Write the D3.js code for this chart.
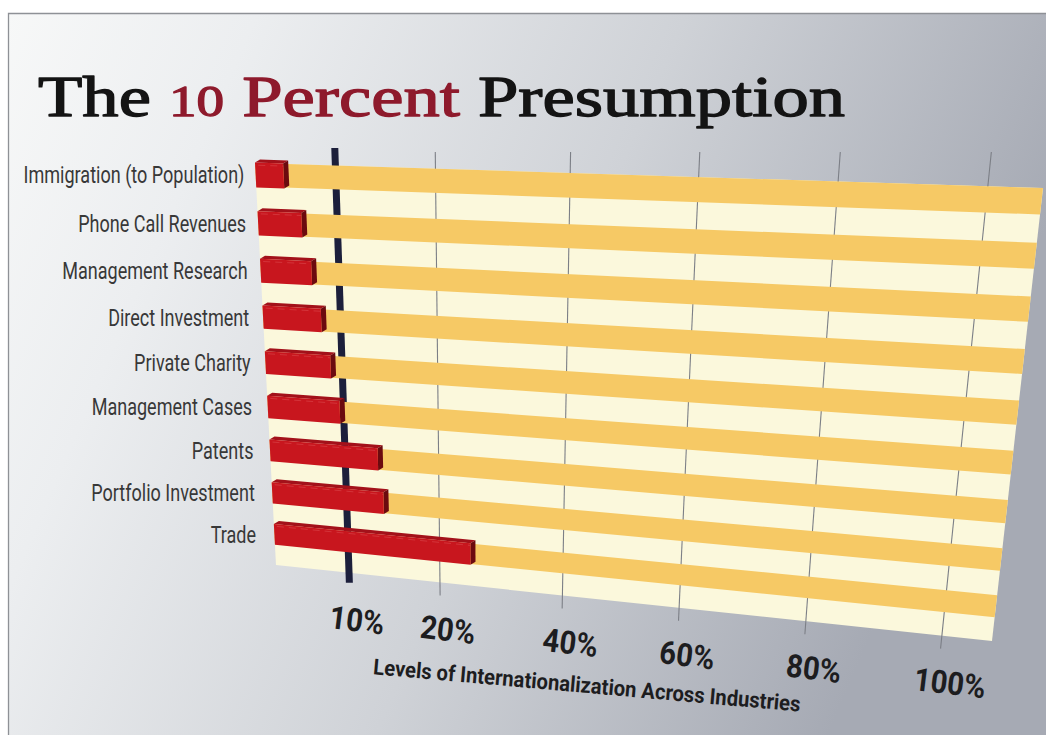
<!DOCTYPE html>
<html><head><meta charset="utf-8">
<script src="https://cdn.jsdelivr.net/npm/d3@7"></script>
<style>html,body{margin:0;padding:0;background:#fff;overflow:hidden}</style>
</head><body>
<svg id="chart" width="1046" height="735"></svg>
<script>
// ---------- data ----------
const categories = ["Immigration (to Population)", "Phone Call Revenues", "Management Research",
  "Direct Investment", "Private Charity", "Management Cases", "Patents", "Portfolio Investment", "Trade"];
const values = [3.5, 5.5, 6.5, 7.5, 8.5, 9.5, 13.5, 14, 25];
const tickValues = [10, 20, 40, 60, 80, 100];
const tickLabels = ["10%", "20%", "40%", "60%", "80%", "100%"];
const referenceValue = 10;
const titleParts = ["The ", "10", " Percent", " Presumption"];
const axisTitle = "Levels of Internationalization Across Industries";

// ---------- layout ----------
const W = 1046, H = 735;
const svg = d3.select("#chart");
const defs = svg.append("defs");
const grad = defs.append("linearGradient").attr("id", "bg")
  .attr("x1", "0").attr("y1", "0").attr("x2", "1").attr("y2", "0.3");
[[0, "#f7f8f8"], [0.22, "#eceef0"], [0.6, "#cfd2d7"], [1, "#a6aab4"]]
  .forEach(([o, c]) => grad.append("stop").attr("offset", o).attr("stop-color", c));
svg.append("rect").attr("width", W).attr("height", H).attr("fill", "#fff");
svg.append("rect").attr("x", 8).attr("y", 13).attr("width", W - 8).attr("height", H - 13).attr("fill", "url(#bg)");
svg.append("path").attr("d", `M8.5,${H} V13.5 H${W}`).attr("fill", "none")
  .attr("stroke", "#8e9196").attr("stroke-width", 1.3);

// perspective plane
const TL = [255, 163], TR = [1043, 188], BR = [992, 641], BL = [276, 565];
const warp = v => v + 0.1 * v * (1 - v);
function P(u, v) {
  const t = warp(v);
  const L = [TL[0] + (BL[0] - TL[0]) * t, TL[1] + (BL[1] - TL[1]) * t];
  const R = [TR[0] + (BR[0] - TR[0]) * t, TR[1] + (BR[1] - TR[1]) * t];
  return [L[0] + (R[0] - L[0]) * u, L[1] + (R[1] - L[1]) * u];
}
const x = d3.scaleLinear().domain([0, 10, 20, 40, 60, 80, 100])
  .range([0, 0.102, 0.229, 0.40, 0.563, 0.74, 0.93]);
const y = d3.scaleBand().domain(categories).range([0, 1]);
const stripeFrac = 0.48;
const line = d3.line();
const quad = (u0, u1, v0, v1) => line([P(u0, v0), P(u1, v0), P(u1, v1), P(u0, v1)]) + "Z";
const add = (p, o) => [p[0] + o[0], p[1] + o[1]];

// title
const title = svg.append("text").attr("x", 38).attr("y", 116)
  .attr("font-family", "'Liberation Serif','Times New Roman',serif").attr("font-weight", "normal")
  .attr("font-size", 58).attr("textLength", 807).attr("lengthAdjust", "spacingAndGlyphs")
  .attr("stroke-width", 1.3).attr("stroke-linejoin", "round");
title.append("tspan").text(titleParts[0]).attr("fill", "#141414").attr("stroke", "#141414");
title.append("tspan").text(titleParts[1]).attr("fill", "#8e1a2c").attr("stroke", "#8e1a2c").attr("font-size", 44);
title.append("tspan").text(titleParts[2]).attr("fill", "#8e1a2c").attr("stroke", "#8e1a2c");
title.append("tspan").text(titleParts[3]).attr("fill", "#141414").attr("stroke", "#141414");

// plane
svg.append("path").attr("d", quad(0, 1, 0, 1)).attr("fill", "#fbf8dc");

// grid lines
const gridTopY = 152;
const grid = svg.append("g");
tickValues.forEach(t => {
  if (t === referenceValue) return;
  const u = x(t), a = P(u, 0), b = P(u, 1);
  const sTop = (gridTopY - a[1]) / (b[1] - a[1]);
  const sBot = 1 + 13 / (b[1] - a[1]);
  const pt = s => [a[0] + (b[0] - a[0]) * s, a[1] + (b[1] - a[1]) * s];
  grid.append("path").attr("d", line([pt(sTop), pt(sBot)]))
    .attr("stroke", "#7c7f86").attr("stroke-width", 1.1).attr("fill", "none");
});
// reference 10% line
{
  const u = x(referenceValue), a = P(u, 0), b = P(u, 1);
  const sTop = (148 - a[1]) / (b[1] - a[1]);
  const sBot = 1 + 10 / (b[1] - a[1]);
  const pt = s => [a[0] + (b[0] - a[0]) * s, a[1] + (b[1] - a[1]) * s];
  svg.append("path").attr("d", line([pt(sTop), pt(sBot)]))
    .attr("stroke", "#1c1f3b").attr("stroke-width", 7).attr("fill", "none");
}

// orange stripes
svg.append("g").selectAll("path").data(categories).join("path")
  .attr("d", c => quad(0, 1, y(c), y(c) + y.bandwidth() * stripeFrac))
  .attr("fill", "#f6c965");

// bars (3D)
const off = [5, -3];
const bars = svg.append("g").selectAll("g").data(categories).join("g");
bars.each(function (c, i) {
  const g = d3.select(this);
  const u1 = x(values[i]);
  const v0 = y(c) - y.bandwidth() * 0.01, v1 = y(c) + y.bandwidth() * stripeFrac * 1.04;
  g.append("path").attr("d", line([P(0, v0), P(u1, v0), add(P(u1, v0), off), add(P(0, v0), off)]) + "Z")
    .attr("fill", "#a3111a");
  g.append("path").attr("d", line([P(u1, v0), P(u1, v1), add(P(u1, v1), off), add(P(u1, v0), off)]) + "Z")
    .attr("fill", "#6c0a0f");
  g.append("path").attr("d", quad(0, u1, v0, v1)).attr("fill", "#c8161e");
  g.append("path").attr("d", line([P(0.004, v0 + 0.006), P(u1, v0 + 0.006)]))
    .attr("stroke", "#e5676a").attr("stroke-width", 0.8).attr("stroke-dasharray", "7,5")
    .attr("opacity", 0.45).attr("fill", "none");
});

// category labels
const labelFont = "Roboto, 'DejaVu Sans', sans-serif";
const labelSize = 24;
const meas = svg.append("text").attr("font-family", labelFont).attr("font-size", labelSize)
  .text(categories[0]);
const labelSx = 221 / meas.node().getComputedTextLength();
meas.remove();
svg.append("g").selectAll("g").data(categories).join("g")
  .attr("transform", c => {
    const v = y(c) + y.bandwidth() * stripeFrac / 2;
    const p = P(0, v);
    return `translate(${p[0] - 11 - 8 * v},${p[1]})`;
  })
  .append("text").attr("transform", `scale(${labelSx},1)`)
  .attr("text-anchor", "end").attr("dy", "0.36em")
  .attr("font-family", labelFont).attr("font-size", labelSize).attr("fill", "#383838")
  .text(c => c);

// tick labels
const tickFont = "Roboto, 'DejaVu Sans', sans-serif";
const tickSize = 32;
const meas2 = svg.append("text").attr("font-family", tickFont).attr("font-weight", "bold")
  .attr("font-size", tickSize).text(tickLabels[tickLabels.length - 1]);
const tickSx = 72 / meas2.node().getComputedTextLength();
meas2.remove();
svg.append("g").selectAll("g").data(tickValues).join("g")
  .attr("transform", t => { const p = P(x(t), 1); return `translate(${p[0] + 8},${p[1] + 47}) rotate(7)`; })
  .append("text").attr("transform", `scale(${tickSx},1)`)
  .attr("text-anchor", "middle").attr("dy", "0.36em")
  .attr("font-family", tickFont).attr("font-weight", "bold").attr("font-size", tickSize).attr("fill", "#1d1d1f")
  .text((t, i) => tickLabels[i]);

// axis title
const axSize = 22;
const meas3 = svg.append("text").attr("font-family", tickFont).attr("font-weight", "bold")
  .attr("font-size", axSize).text(axisTitle);
const axSx = 429 / meas3.node().getComputedTextLength();
meas3.remove();
svg.append("g").attr("transform", "translate(587,685) rotate(5)")
  .append("text").attr("transform", `scale(${axSx},1)`)
  .attr("text-anchor", "middle").attr("dy", "0.36em")
  .attr("font-family", tickFont).attr("font-weight", "bold").attr("font-size", axSize).attr("fill", "#1d1d1f")
  .text(axisTitle);
</script>
</body></html>
